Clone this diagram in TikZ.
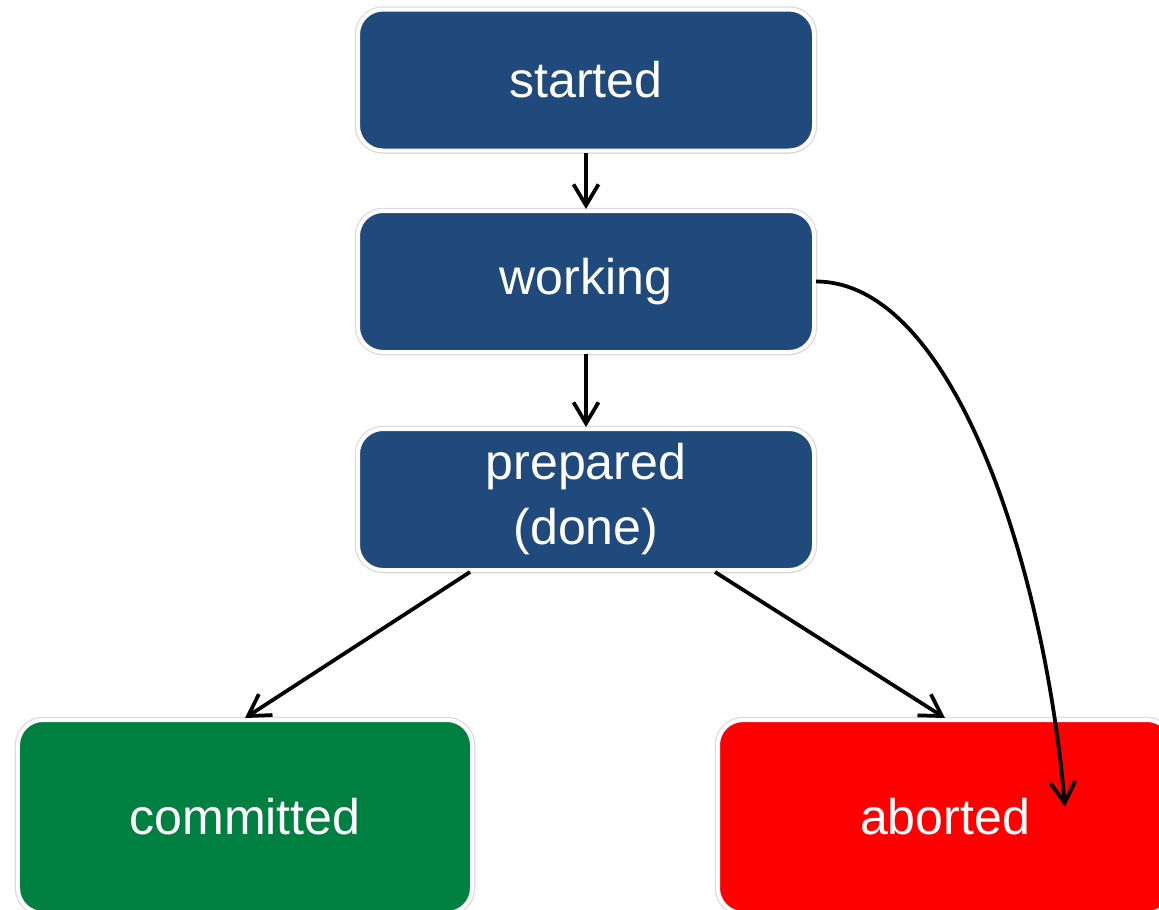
\documentclass[tikz,border=0pt]{standalone}
\usepackage{fontspec}
\setmainfont{Liberation Sans}
\usetikzlibrary{arrows.meta,shadows}
\definecolor{stateblue}{RGB}{32,73,124}
\definecolor{commitgreen}{RGB}{0,128,64}
\definecolor{abortred}{RGB}{255,0,0}
\begin{document}
\begin{tikzpicture}[>={Straight Barb[length=0.42cm,width=0.5cm]}, line width=0.075cm,
  state node/.style={rectangle,rounded corners=0.5cm,draw=white,line width=0.08cm,text=white,align=center,minimum width=9.12cm,minimum height=2.82cm,preaction={draw=black!14,line width=0.13cm},drop shadow={shadow xshift=0.01cm,shadow yshift=-0.05cm,opacity=0.15}},
  end node/.style={state node,minimum width=9.08cm,minimum height=3.86cm}]
\useasboundingbox (0,0) rectangle (23.18,-18.18);
\begin{scope}[every node/.style={font=\fontsize{28.5}{37}\selectfont}]
\node [state node,fill=stateblue](started) at (11.72,-1.6) {started};
\node [state node,fill=stateblue](working) at (11.72,-5.63) {working};
\node [state node,fill=stateblue](prepared) at (11.72,-9.99) {prepared\\(done)};
\node [end node,fill=commitgreen](committed) at (4.9,-16.33) {committed};
\node [end node,fill=abortred](aborted) at (18.9,-16.33) {aborted};
\end{scope}
\coordinate (abort in) at ([shift={(2.4,0.2)}]aborted.center);
\path
	(started) edge [->] (working)
	(working) edge [->] (prepared)
		 edge [->, out=0, in=95, out looseness=0.6, in looseness=1.08] (abort in)
	([xshift=-2.32cm]prepared.south) edge [->] (committed.north)
	([xshift=2.58cm]prepared.south) edge [->] (aborted.north)
	;
\end{tikzpicture}
\end{document}
